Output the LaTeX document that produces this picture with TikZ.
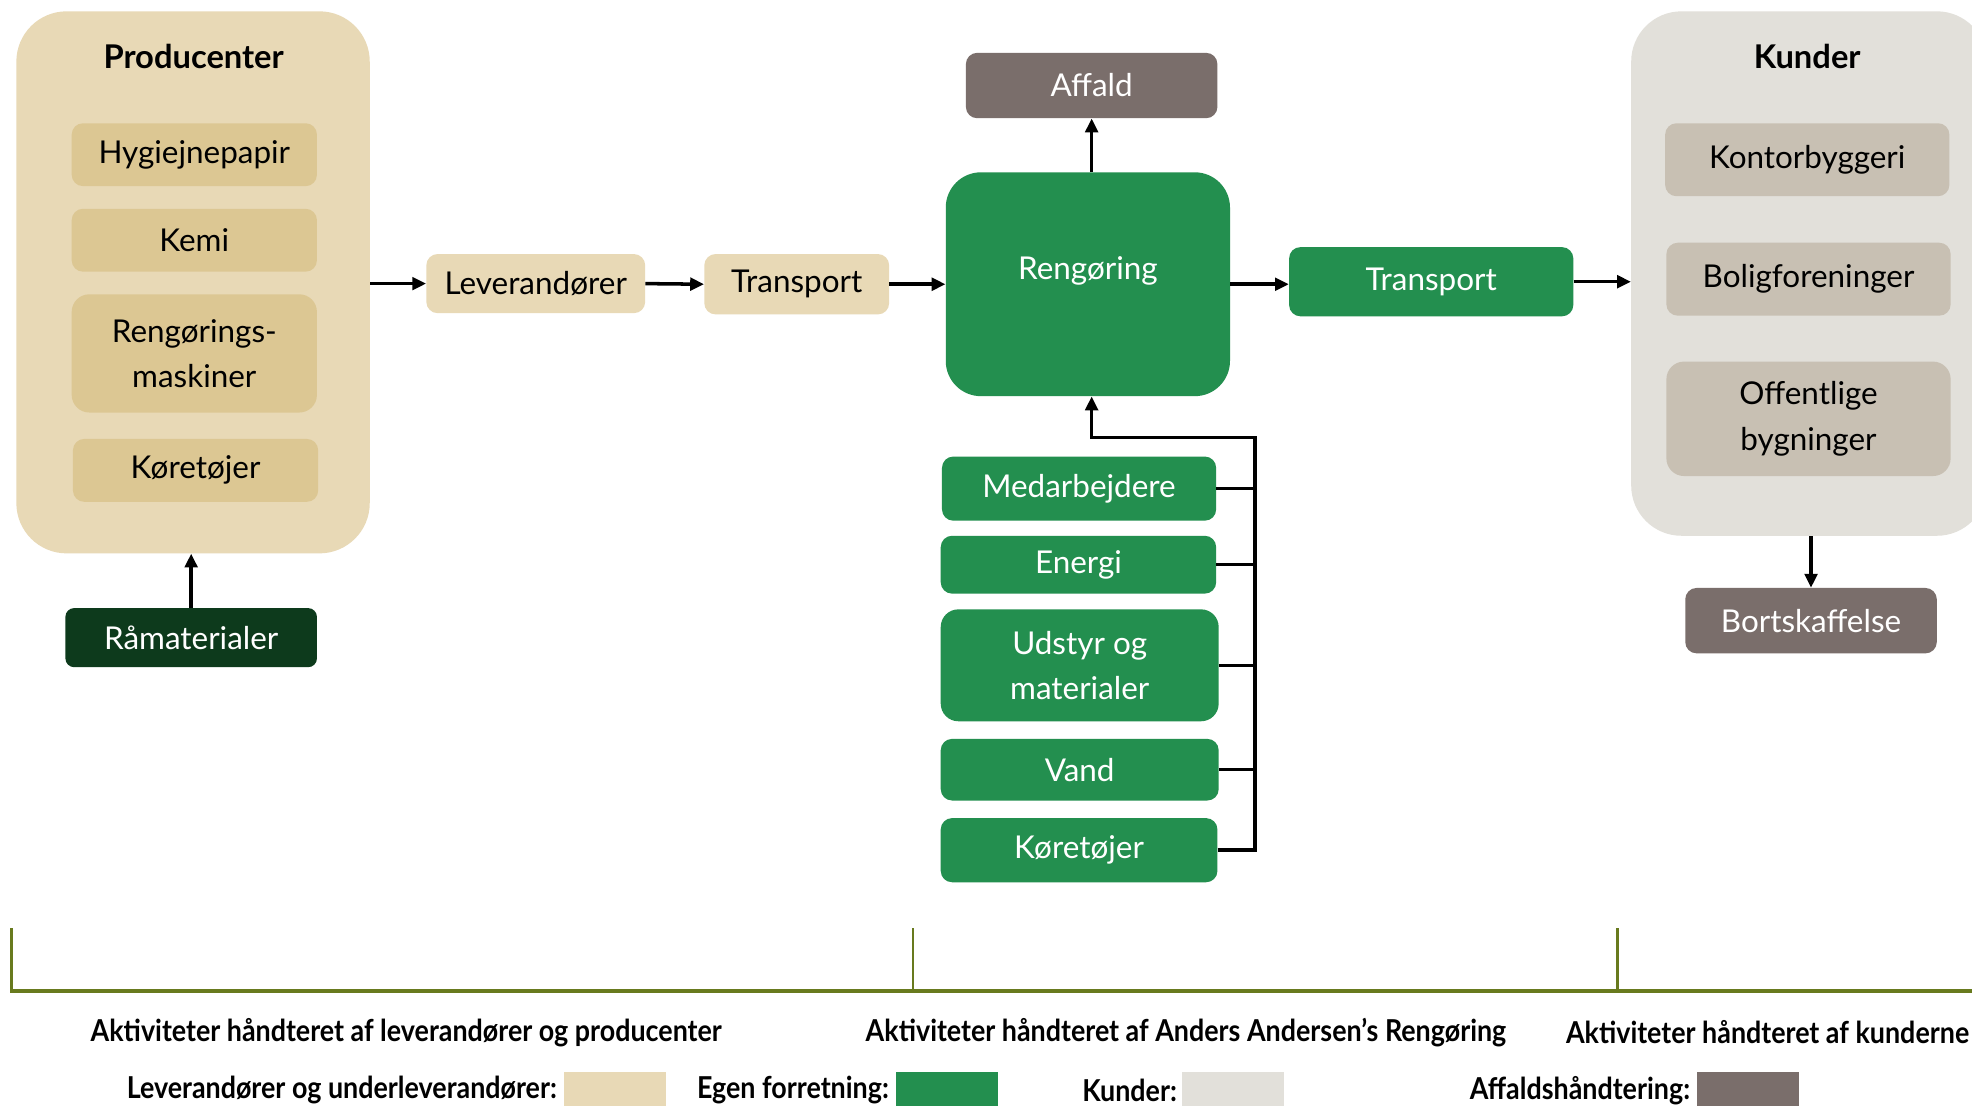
\documentclass[tikz,border=0pt]{standalone}
\usepackage{fontspec}
\setmainfont{Lato}
\newfontfamily\hdrfont[FakeStretch=0.89]{Lato}
\usetikzlibrary{arrows.meta}
\definecolor{tanlight}{HTML}{E8D9B6}
\definecolor{taninner}{HTML}{DCC793}
\definecolor{ownGreen}{HTML}{238F4F}
\definecolor{darkGreen}{HTML}{0D3A1C}
\definecolor{wasteGray}{HTML}{7A6E6B}
\definecolor{custLight}{HTML}{E2E0DA}
\definecolor{custInner}{HTML}{C8C0B3}
\definecolor{oliveLine}{HTML}{687A1E}
\tikzset{
  box/.style={rounded corners=9pt, inner sep=0pt, align=center, font=\fontsize{25}{36}\selectfont},
  tanbox/.style={box, fill=taninner, text=black},
  tanflow/.style={box, fill=tanlight, text=black},
  greenbox/.style={box, fill=ownGreen, text=white},
  wastebox/.style={box, fill=wasteGray, text=white},
  custbox/.style={box, fill=custInner, text=black},
  groupbox/.style={rounded corners=40pt, inner sep=0pt},
  grouptitle/.style={font=\fontsize{26}{30}\selectfont\bfseries},
  tip/.style={-{Triangle[length=11pt,width=10pt]}},
  arr/.style={line width=2.8pt, tip},
  bus/.style={line width=2.8pt, line join=miter},
  hdr/.style={font=\hdrfont\fontsize{24}{28}\selectfont\bfseries, inner sep=0pt},
  swatch/.style={inner sep=0pt, minimum width=81pt, minimum height=30pt, anchor=north west},
  timeline/.style={draw=oliveLine, line width=2.8pt}
}
\begin{document}
\begin{tikzpicture}[x=1pt,y=-1pt]
\useasboundingbox[fill=white] (0,0) rectangle (1568,879);

% Producenter group
\node[groupbox, fill=tanlight, minimum width=281pt, minimum height=431pt] (prod) at (153.5,224.5) {};
\node[grouptitle] (prodtitle) at (154,45) {Producenter};
\node[tanbox, minimum width=195pt, minimum height=50pt] (hyg) at (154.5,123) {Hygiejnepapir};
\node[tanbox, minimum width=195pt, minimum height=50pt] (kemi) at (154.5,191) {Kemi};
\node[tanbox, minimum width=195pt, minimum height=94pt, rounded corners=14pt] (rmask) at (154.5,281) {Rengørings-\\maskiner};
\node[tanbox, minimum width=195pt, minimum height=50pt] (kor1) at (155.5,374) {Køretøjer};
\node[box, fill=darkGreen, text=white, minimum width=200pt, minimum height=47pt, rounded corners=7pt] (ram) at (152,507) {Råmaterialer};

% flow
\node[tanflow, minimum width=174pt, minimum height=47pt] (lev) at (426,225.5) {Leverandører};
\node[tanflow, minimum width=147pt, minimum height=48pt] (tr1) at (633.5,226) {Transport};
\node[greenbox, minimum width=226pt, minimum height=178pt, rounded corners=28pt, text height=18pt, text depth=26pt] (reng) at (865,226) {Rengøring};
\node[wastebox, minimum width=200pt, minimum height=52pt] (affald) at (868,68) {Affald};
\node[greenbox, minimum width=226pt, minimum height=55pt] (tr2) at (1138,224) {Transport};

% Kunder group
\node[groupbox, fill=custLight, minimum width=283pt, minimum height=417pt] (kund) at (1438.5,217.5) {};
\node[grouptitle] (kundtitle) at (1437,45) {Kunder};
\node[custbox, minimum width=226pt, minimum height=58pt] (kont) at (1437,127) {Kontorbyggeri};
\node[custbox, minimum width=226pt, minimum height=58pt] (bolig) at (1438,222) {Boligforeninger};
\node[custbox, minimum width=226pt, minimum height=91pt, rounded corners=14pt] (offent) at (1438,333) {Offentlige\\bygninger};
\node[wastebox, minimum width=200pt, minimum height=52pt] (bort) at (1440,493.5) {Bortskaffelse};

% inputs
\node[greenbox, minimum width=218pt, minimum height=51pt] (med) at (858,388.5) {Medarbejdere};
\node[greenbox, minimum width=219pt, minimum height=46pt] (energi) at (857.5,449) {Energi};
\node[greenbox, minimum width=221pt, minimum height=89pt, rounded corners=14pt] (udstyr) at (858.5,529) {Udstyr og\\materialer};
\node[greenbox, minimum width=221pt, minimum height=49pt] (vand) at (858.5,612) {Vand};
\node[greenbox, minimum width=220pt, minimum height=51pt] (kor2) at (858,676) {Køretøjer};

% connectors
\draw[arr] (prod.east |- lev.west) -- (lev.west);
\draw[arr] (lev.east) -- (tr1.west);
\draw[arr] (tr1.east) -- (reng.west);
\draw[arr] (affald.south |- reng.north) -- (affald.south);
\draw[arr] (reng.east) -- (reng.east -| tr2.west);
\draw[arr] (tr2.east) -- (tr2.east -| kund.west);
\draw[arr] (bort.north |- kund.south) -- (bort.north);
\draw[arr] (ram.north) -- (ram.north |- prod.south);

\coordinate (bt) at (998,348);
\draw[bus, tip] (kor2.east) -| (bt) -| (affald.south |- reng.south);
\draw[bus] (med.east) -- (med.east -| bt);
\draw[bus] (energi.east) -- (energi.east -| bt);
\draw[bus] (udstyr.east) -- (udstyr.east -| bt);
\draw[bus] (vand.east) -- (vand.east -| bt);

% timeline
\draw[timeline, line join=miter] (9,738) -- (9,788) -- (1570,788);
\draw[timeline, line width=2.2pt] (726,738) -- (726,788);
\draw[timeline, line width=2.2pt] (1286,738) -- (1286,788);

\node[hdr] (h1) at (323,821) {Aktiviteter håndteret af leverandører og producenter};
\node[hdr] (h2) at (943,821) {Aktiviteter håndteret af Anders Andersen’s Rengøring};
\node[hdr, anchor=east] (h3) at (1566,821) {Aktiviteter håndteret af kunderne};

% legend
\node[hdr, anchor=east] (l1) at (443,867) {Leverandører og underleverandører:};
\node[swatch, fill=tanlight] (s1) at (448,852) {};
\node[hdr, anchor=east] (l2) at (707,867) {Egen forretning:};
\node[swatch, fill=ownGreen] (s2) at (712,852) {};
\node[hdr, anchor=east] (l3) at (936,867) {Kunder:};
\node[swatch, fill=custLight] (s3) at (940,852) {};
\node[hdr, anchor=east] (l4) at (1344,867) {Affaldshåndtering:};
\node[swatch, fill=wasteGray] (s4) at (1349,852) {};
\end{tikzpicture}
\end{document}
